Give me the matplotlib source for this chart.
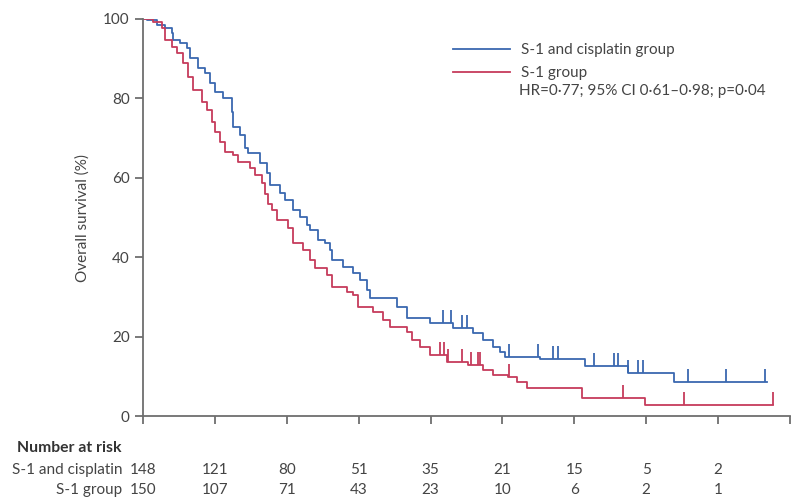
import numpy as np
import matplotlib
matplotlib.use("Agg")
import matplotlib.pyplot as plt

plt.rcParams['font.family'] = ['Lato', 'DejaVu Sans']

# survival curves (months, % alive after each step)
combo_t = [0, 0.33, 1.17, 1.84, 2.42, 2.5, 3.09, 3.67, 3.92, 4.59, 5.17, 5.59, 6.01,
           6.68, 7.43, 7.51, 8.1, 8.51, 8.76, 9.76, 10.35, 10.6, 11.43, 11.85, 12.52,
           13.1, 13.69, 13.94, 14.6, 15.19, 15.6, 15.77, 16.69, 17.52, 18.11, 18.69,
           18.94, 21.2, 22.03, 23.95, 25.87, 27.54, 28.37, 29.21, 29.79, 30.21, 33.13,
           36.88, 40.47, 44.31]
combo_s = [100, 99.7, 98.5, 97.7, 96.5, 94.7, 94, 92.7, 90.2, 87.7, 86.4, 84, 81.6,
           80, 76.6, 72.8, 70.8, 67.5, 66.2, 63.7, 61.2, 58.2, 56.2, 54.4, 51.9,
           50.1, 48.1, 46.9, 44.3, 43.5, 41.8, 39.3, 37.5, 36, 34.3, 31.7,
           29.7, 27.5, 24.7, 23.4, 22.2, 20.9, 19.1, 17.4, 16.1, 14.9, 14.4,
           12.6, 10.8, 8.6]
combo_end = 52.07
combo_cens = [25.04, 25.7, 26.62, 27.04, 30.54, 33.0, 34.22, 34.63, 37.64, 39.31,
              39.64, 40.5, 41.31, 41.72, 45.48, 48.65, 51.9]

s1_t = [0, 0.83, 1.59, 1.84, 2.42, 2.84, 3.34, 3.76, 4.17, 4.92, 5.34, 5.76, 6.01,
        6.43, 6.84, 7.51, 7.93, 8.93, 9.35, 9.93, 10.18, 10.43, 10.77, 11.18, 12.1,
        12.52, 13.35, 13.94, 14.35, 15.35, 15.77, 17.02, 17.52, 17.94, 19.19, 20.03,
        20.61, 22.03, 22.45, 23.12, 23.95, 25.37, 27.12, 28.37, 29.21, 30.46, 31.21,
        32.04, 36.63, 41.89]
s1_s = [100, 99.2, 97.7, 94.7, 93, 91.4, 88.9, 85.4, 82, 79, 77, 74, 71.5,
        69, 66.5, 65.7, 64, 62.5, 60.7, 58.7, 56, 53.5, 52, 49.4, 47.3,
        43.6, 41.8, 39.3, 37.3, 35.5, 32.5, 31.2, 30.5, 27.5, 26.2, 24.2,
        22.4, 21.2, 19.1, 17.4, 15.4, 13.6, 12.8, 11.6, 10.3, 9.8, 8.6,
        7.1, 4.6, 2.8]
s1_end = 52.57
s1_cens = [24.78, 25.12, 25.45, 26.62, 27.37, 27.96, 28.12, 30.54, 40.05, 45.15, 52.57]

risk_times = [0, 6, 12, 18, 24, 30, 36, 42, 48]
risk_combo = [148, 121, 80, 51, 35, 21, 15, 5, 2]
risk_s1 = [150, 107, 71, 43, 23, 10, 6, 2, 1]

blue = "#3a68b0"
red = "#c63c5c"
grey = "#6e6e6e"
txt = "#444444"


def draw_curve(ax, t, s, t_end, cens, color, label):
    t = np.array(t + [t_end])
    s = np.array(s + [s[-1]])
    ax.step(t, s, where="post", color=color, lw=1.3, label=label)
    idx = np.searchsorted(t, cens, side="right") - 1
    lvl = s[np.clip(idx, 0, len(s) - 1)]
    ax.vlines(cens, lvl, lvl + 3.2, color=color, lw=1.3)


fig = plt.figure(figsize=(7.91, 4.99), dpi=100)
ax = fig.add_axes([143 / 791, 1 - 416 / 499, 647 / 791, 397 / 499])

draw_curve(ax, combo_t, combo_s, combo_end, combo_cens, blue, "S-1 and cisplatin group")
draw_curve(ax, s1_t, s1_s, s1_end, s1_cens, red, "S-1 group")

ax.set_xlim(0, 54)
ax.set_ylim(0, 100)
ax.set_xticks(np.arange(0, 55, 6))
ax.set_xticklabels([])
ax.set_yticks([0, 20, 40, 60, 80, 100])
ax.tick_params(axis="both", colors=grey, labelcolor=txt, labelsize=11,
               length=6, width=1.3, direction="out")
for side in ["top", "right"]:
    ax.spines[side].set_visible(False)
for side in ["left", "bottom"]:
    ax.spines[side].set_color(grey)
    ax.spines[side].set_linewidth(1.3)
ax.set_ylabel("Overall survival (%)", color=txt, fontsize=11, labelpad=10)

leg = ax.legend(loc="upper left", bbox_to_anchor=(0.47, 0.955), frameon=False,
                fontsize=11, handlelength=3.7, handletextpad=0.75,
                labelspacing=0.62, borderaxespad=0)
for t in leg.get_texts():
    t.set_color(txt)
ax.text(0.581, 0.8186, "HR=0·77; 95% CI 0·61–0·98; p=0·04", transform=ax.transAxes,
        fontsize=11, color=txt, va="center")

# number at risk table
tr = ax.get_xaxis_transform()
fig.text(17 / 791, 1 - 448 / 499, "Number at risk", fontsize=11.3, fontweight="bold",
         color="#333333", va="center")
fig.text(122 / 791, 1 - 470 / 499, "S-1 and cisplatin", fontsize=11, color=txt,
         va="center", ha="right")
fig.text(122 / 791, 1 - 490 / 499, "S-1 group", fontsize=11, color=txt,
         va="center", ha="right")
for x, a, b in zip(risk_times, risk_combo, risk_s1):
    ax.text(x, -54 / 397, str(a), transform=tr, ha="center", va="center",
            fontsize=11, color=txt, clip_on=False)
    ax.text(x, -74 / 397, str(b), transform=tr, ha="center", va="center",
            fontsize=11, color=txt, clip_on=False)

fig.savefig("out.png", dpi=100)
